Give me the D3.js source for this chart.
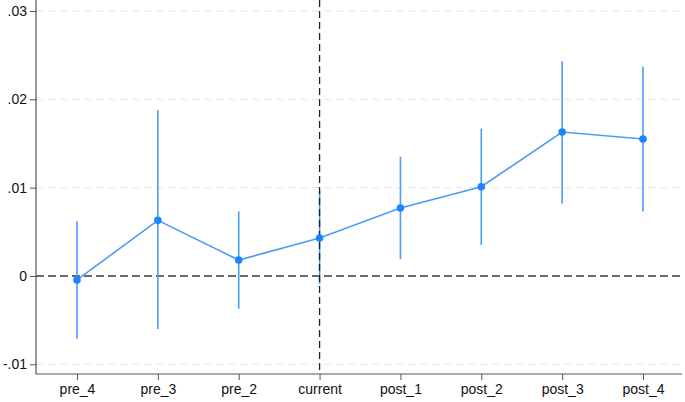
<!DOCTYPE html>
<html><head><meta charset="utf-8">
<script src="https://cdn.jsdelivr.net/npm/d3@7"></script>
<style>
html,body{margin:0;padding:0;background:#fff;}
svg{display:block;font-family:"Liberation Sans",Arial,sans-serif;}
</style></head><body>
<svg id="chart" width="685" height="402"></svg>
<script>
const categories = ["pre_4","pre_3","pre_2","current","post_1","post_2","post_3","post_4"];
const estimates  = [-0.00045, 0.0063, 0.0018, 0.0043, 0.0077, 0.0101, 0.0163, 0.0155];
const ciLower    = [-0.0071, -0.0060, -0.0037, -0.0009, 0.0019, 0.0035, 0.0082, 0.0073];
const ciUpper    = [0.0062, 0.0188, 0.0073, 0.0096, 0.0135, 0.0167, 0.0243, 0.0237];
const yTicks     = [-0.01, 0, 0.01, 0.02, 0.03];
const yTickLabels = ["-.01","0",".01",".02",".03"];

(function(){
const svg = d3.select("#chart");
const pLeft = 36, pRight = 682, pTop = 0, pBottom = 374;

const x = d3.scalePoint().domain(categories).range([77, 643]);
const y = d3.scaleLinear().domain([-0.01, 0.03]).range([364.3, 11]);

// gridlines
svg.append("g").selectAll("line").data(yTicks).join("line")
  .attr("x1", pLeft).attr("x2", pRight)
  .attr("y1", d => y(d)).attr("y2", d => y(d))
  .attr("stroke", "#e6e6e6").attr("stroke-width", 1)
  .attr("stroke-dasharray", "7,5");

// zero reference line
svg.append("line")
  .attr("x1", pLeft).attr("x2", pRight)
  .attr("y1", y(0)).attr("y2", y(0))
  .attr("stroke", "#3c3c3c").attr("stroke-width", 1.6)
  .attr("stroke-dasharray", "8,4");

const blueLine = "#4a9df5";
const blueDot = "#1a85ff";

// CI lines
svg.append("g").selectAll("line").data(categories).join("line")
  .attr("x1", d => x(d)).attr("x2", d => x(d))
  .attr("y1", (d,i) => y(ciLower[i])).attr("y2", (d,i) => y(ciUpper[i]))
  .attr("stroke", blueLine).attr("stroke-width", 1.6);

// vertical reference line at current
svg.append("line")
  .attr("x1", x("current")).attr("x2", x("current"))
  .attr("y1", pTop).attr("y2", pBottom)
  .attr("stroke", "#222").attr("stroke-width", 1.3)
  .attr("stroke-dasharray", "7,4");

// connecting line
const line = d3.line().x((d,i) => x(categories[i])).y(d => y(d));
svg.append("path").datum(estimates)
  .attr("d", line).attr("fill", "none")
  .attr("stroke", blueLine).attr("stroke-width", 1.6);

// points
svg.append("g").selectAll("circle").data(estimates).join("circle")
  .attr("cx", (d,i) => x(categories[i])).attr("cy", d => y(d))
  .attr("r", 3.8).attr("fill", blueDot);

// y axis
const yAxis = d3.axisLeft(y).tickValues(yTicks)
  .tickFormat((d,i) => yTickLabels[i]).tickSize(6).tickPadding(3);
const gy = svg.append("g").attr("transform", `translate(${pLeft},0)`).call(yAxis);
gy.select(".domain").remove();
gy.append("line").attr("x1",0).attr("x2",0).attr("y1",pTop).attr("y2",pBottom)
  .attr("stroke","#555").attr("stroke-width",1.2);
gy.selectAll(".tick line").attr("stroke","#555");
gy.selectAll(".tick text").attr("font-size", 14).attr("fill","#111")
  .style("font-family", '"Liberation Sans",Arial,sans-serif');

// x axis
const xAxis = d3.axisBottom(x).tickSize(6).tickPadding(4);
const gx = svg.append("g").attr("transform", `translate(0,${pBottom})`).call(xAxis);
gx.select(".domain").remove();
gx.append("line").attr("x1",pLeft).attr("x2",pRight).attr("y1",0).attr("y2",0)
  .attr("stroke","#555").attr("stroke-width",1.2);
gx.selectAll(".tick line").attr("stroke","#555");
gx.selectAll(".tick text").attr("font-size", 14).attr("fill","#111")
  .style("font-family", '"Liberation Sans",Arial,sans-serif');
})();
</script>
</body></html>
